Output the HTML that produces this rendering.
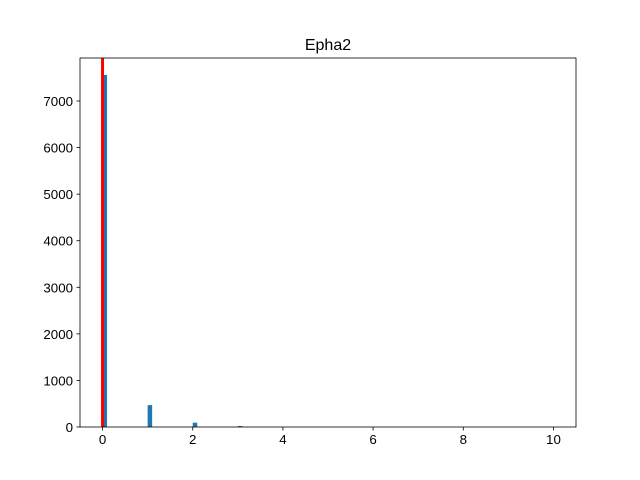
<!DOCTYPE html>
<html><head><meta charset="utf-8"><style>body{margin:0;background:#fff}svg{display:block;font-family:"Liberation Sans","DejaVu Sans",sans-serif}</style></head>
<body>
<svg id="c" width="640" height="480"></svg>
<script>
const binStarts=[0,1,2,3];
const counts=[7560,470,92,22];
const binWidth=0.1;
const xTicks=[0,2,4,6,8,10];
const yTicks=[0,1000,2000,3000,4000,5000,6000,7000];
const markerX=[0];
const L=80,R=576,T=58,B=427;
const xmin=-0.5,xmax=10.5,ymin=0,ymax=7923;
const sx=v=>L+(v-xmin)/(xmax-xmin)*(R-L);
const sy=v=>B-(v-ymin)/(ymax-ymin)*(B-T);
const svg=document.getElementById('c');const NS='http://www.w3.org/2000/svg';
function mk(t,a){const e=document.createElementNS(NS,t);for(const k in a)e.setAttribute(k,a[k]);svg.appendChild(e);return e;}
binStarts.forEach((b,i)=>{const r=mk('rect',{x:sx(b),y:sy(counts[i]),width:sx(b+binWidth)-sx(b),height:sy(0)-sy(counts[i]),fill:'#1f77b4'});

});
markerX.forEach(m=>{const l=mk('line',{x1:sx(m),x2:sx(m),y1:T,y2:B,stroke:'#ff0000','stroke-width':3});

});
const f=mk('rect',{x:L,y:T,width:R-L,height:B-T,fill:'none',stroke:'#000','stroke-width':0.8});


xTicks.forEach(v=>{mk('line',{x1:sx(v),x2:sx(v),y1:B,y2:B+3.5,stroke:'#000','stroke-width':0.8});
const t=mk('text',{x:sx(v),y:B+17,'text-anchor':'middle','font-size':13.3});t.textContent=v;

});
yTicks.forEach(v=>{mk('line',{x1:L-3.5,x2:L,y1:sy(v),y2:sy(v),stroke:'#000','stroke-width':0.8});
const t=mk('text',{x:L-7,y:sy(v)+5,'text-anchor':'end','font-size':13.3});t.textContent=v;

});
const ti=mk('text',{x:(L+R)/2,y:T-8,'text-anchor':'middle','font-size':16});ti.textContent='Epha2';


</script>
</body></html>
